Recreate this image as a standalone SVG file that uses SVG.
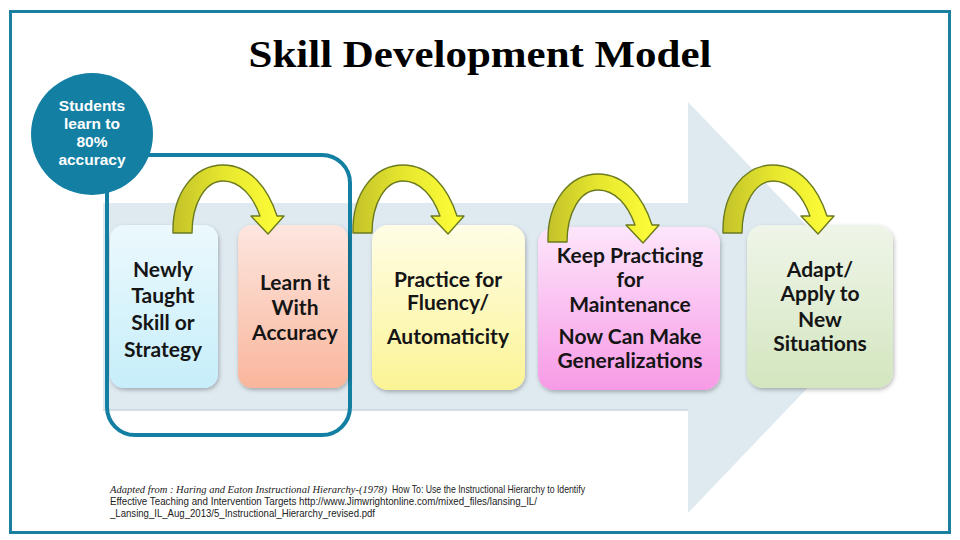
<svg xmlns="http://www.w3.org/2000/svg" width="960" height="540" viewBox="0 0 960 540">
  <defs>
    <style>
      .box-text { font-family: Lato, "Liberation Sans", sans-serif; font-weight: bold; font-size: 21px; fill: #151515; text-anchor: middle; }
      .circ-text { font-family: "Liberation Sans", Arial, sans-serif; font-weight: bold; font-size: 15.5px; fill: #ffffff; text-anchor: middle; }
      .cite-i { font-family: "Liberation Serif", serif; font-style: italic; font-size: 10.5px; fill: #222; }
      .cite { font-family: "Liberation Sans", sans-serif; font-size: 10.5px; fill: #222; }
      .curve { stroke: #6b7a1f; stroke-width: 1.4; fill: url(#gYel); stroke-linejoin: round; }
    </style>
    <linearGradient id="gCyan" x1="0" y1="0" x2="0" y2="1"><stop offset="0" stop-color="#ecf9fd"/><stop offset="1" stop-color="#c6eefa"/></linearGradient>
    <linearGradient id="gPeach" x1="0" y1="0" x2="0" y2="1"><stop offset="0" stop-color="#fde6df"/><stop offset="1" stop-color="#f9b69c"/></linearGradient>
    <linearGradient id="gYellow" x1="0" y1="0" x2="0" y2="1"><stop offset="0" stop-color="#fffde6"/><stop offset="1" stop-color="#fbf495"/></linearGradient>
    <linearGradient id="gPink" x1="0" y1="0" x2="0" y2="1"><stop offset="0" stop-color="#fde6fb"/><stop offset="1" stop-color="#f79ae6"/></linearGradient>
    <linearGradient id="gGreen" x1="0" y1="0" x2="0" y2="1"><stop offset="0" stop-color="#eff5e9"/><stop offset="1" stop-color="#d3e6bf"/></linearGradient>
    <linearGradient id="gYel" x1="0" y1="0" x2="1" y2="0"><stop offset="0" stop-color="#c2c22a"/><stop offset="0.45" stop-color="#e6e62e"/><stop offset="1" stop-color="#ffff3a"/></linearGradient>
    <filter id="sh" x="-10%" y="-10%" width="125%" height="125%">
      <feDropShadow dx="1" dy="2" stdDeviation="2" flood-color="#000" flood-opacity="0.28"/>
    </filter>
  </defs>

  <rect x="0" y="0" width="960" height="540" fill="#ffffff"/>
  <rect x="10.5" y="11.5" width="939" height="521" fill="none" stroke="#1a7fa0" stroke-width="3"/>

  <text x="480" y="67" font-family="'Liberation Serif', serif" font-weight="bold" font-size="37" text-anchor="middle" textLength="463" lengthAdjust="spacingAndGlyphs" fill="#000">Skill Development Model</text>

  <!-- big background arrow -->
  <polygon points="103,203 688,203 688,102 885,307 688,513 688,410 103,410" fill="#dfeaf0"/>
  <line x1="103" y1="410" x2="688" y2="410" stroke="#c9d6dc" stroke-width="1.5"/>

  <!-- bracket -->
  <rect x="107" y="155" width="243" height="280" rx="28" ry="28" fill="none" stroke="#137fa3" stroke-width="4"/>

  <g id="node-circle">
    <circle cx="92" cy="134" r="61" fill="#137fa3"/>
    <text class="circ-text" x="92" y="111">Students</text>
    <text class="circ-text" x="92" y="129">learn to</text>
    <text class="circ-text" x="92" y="147">80%</text>
    <text class="circ-text" x="92" y="165">accuracy</text>
  </g>

  <g id="node-newly">
    <rect x="110" y="225" width="108" height="163" rx="14" fill="url(#gCyan)" filter="url(#sh)"/>
    <text class="box-text" x="163" y="277">Newly</text>
    <text class="box-text" x="163" y="303">Taught</text>
    <text class="box-text" x="163" y="330">Skill or</text>
    <text class="box-text" x="163" y="357">Strategy</text>
  </g>

  <g id="node-learn">
    <rect x="238" y="225" width="110" height="163" rx="14" fill="url(#gPeach)" filter="url(#sh)"/>
    <text class="box-text" x="295" y="290">Learn it</text>
    <text class="box-text" x="295" y="315">With</text>
    <text class="box-text" x="295" y="340">Accuracy</text>
  </g>

  <g id="node-practice">
    <rect x="372" y="225" width="153" height="165" rx="16" fill="url(#gYellow)" filter="url(#sh)"/>
    <text class="box-text" x="448" y="287">Practice for</text>
    <text class="box-text" x="448" y="310">Fluency/</text>
    <text class="box-text" x="448" y="344">Automaticity</text>
  </g>

  <g id="node-keep">
    <rect x="538" y="227" width="182" height="163" rx="16" fill="url(#gPink)" filter="url(#sh)"/>
    <text class="box-text" x="630" y="263">Keep Practicing</text>
    <text class="box-text" x="630" y="287">for</text>
    <text class="box-text" x="630" y="312">Maintenance</text>
    <text class="box-text" x="630" y="344">Now Can Make</text>
    <text class="box-text" x="630" y="368">Generalizations</text>
  </g>

  <g id="node-adapt">
    <rect x="747" y="225" width="146" height="163" rx="16" fill="url(#gGreen)" filter="url(#sh)"/>
    <text class="box-text" x="820" y="277">Adapt/</text>
    <text class="box-text" x="820" y="301">Apply to</text>
    <text class="box-text" x="820" y="327">New</text>
    <text class="box-text" x="820" y="351">Situations</text>
  </g>

  <g id="connectors">
    <path class="curve" d="M173,233 C172,192 195,165 223,165 C250,165 268,188 277,216 L284,216 L268,234 L251,216 L260,216 C253,196 240,181 223,181 C205,181 192,204 192,233 Z"/>
    <path class="curve" transform="translate(180,0)" d="M173,233 C172,192 195,165 223,165 C250,165 268,188 277,216 L284,216 L268,234 L251,216 L260,216 C253,196 240,181 223,181 C205,181 192,204 192,233 Z"/>
    <path class="curve" transform="translate(375,9)" d="M173,233 C172,192 195,165 223,165 C250,165 268,188 277,216 L284,216 L268,234 L251,216 L260,216 C253,196 240,181 223,181 C205,181 192,204 192,233 Z"/>
    <path class="curve" transform="translate(550,0)" d="M173,233 C172,192 195,165 223,165 C250,165 268,188 277,216 L284,216 L268,234 L251,216 L260,216 C253,196 240,181 223,181 C205,181 192,204 192,233 Z"/>
  </g>

  <g id="citation">
    <text class="cite-i" x="110" y="493" textLength="277" lengthAdjust="spacingAndGlyphs">Adapted from : Haring and Eaton Instructional Hierarchy-(1978)</text>
    <text class="cite" x="392" y="493" textLength="193" lengthAdjust="spacingAndGlyphs">How To: Use the Instructional Hierarchy to Identify</text>
    <text class="cite" x="110" y="505" textLength="427" lengthAdjust="spacingAndGlyphs">Effective Teaching and Intervention Targets http://www.Jimwrightonline.com/mixed_files/lansing_IL/</text>
    <text class="cite" x="110" y="517" textLength="265" lengthAdjust="spacingAndGlyphs">_Lansing_IL_Aug_2013/5_Instructional_Hierarchy_revised.pdf</text>
  </g>
</svg>
